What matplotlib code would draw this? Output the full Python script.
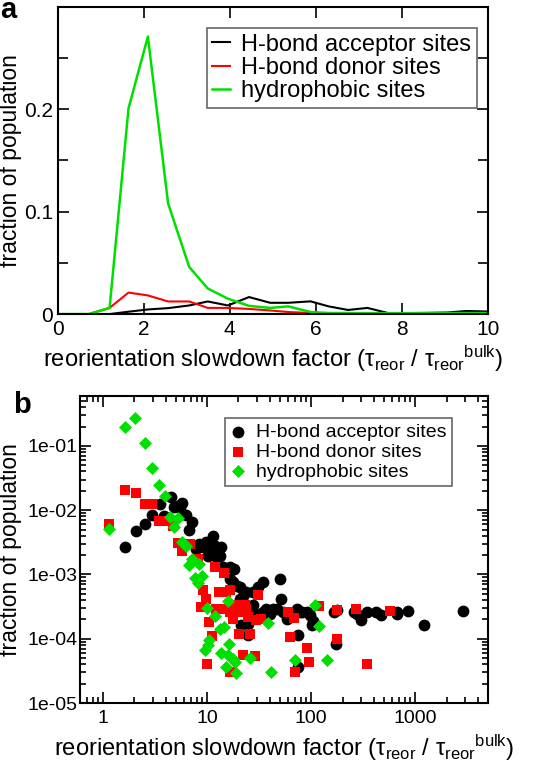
import matplotlib
matplotlib.use('Agg')
import matplotlib.pyplot as plt
from matplotlib.ticker import FixedLocator, LogLocator, NullFormatter, MultipleLocator

plt.rcParams['font.family'] = ['Liberation Sans', 'DejaVu Sans']
plt.rcParams['mathtext.fontset'] = 'custom'
plt.rcParams['mathtext.rm'] = 'Liberation Sans'
plt.rcParams['mathtext.default'] = 'regular'

# panel a: distributions (line plot)
slow_a = [0, 0.73, 1.21, 1.65, 2.1, 2.57, 3.06, 3.49, 3.96, 4.45, 4.94, 5.36, 5.88,
          6.3, 6.75, 7.2, 7.68, 8.15, 8.6, 9.05, 9.5, 10.0]
acceptor_a = [0, 0, 0, 0.0023, 0.0045, 0.0058, 0.0084, 0.0123, 0.0084, 0.0166, 0.011, 0.011,
              0.0124, 0.0075, 0.004, 0.006, 0.001, 0.001, 0.0012, 0.0015, 0.003, 0.0025]
donor_a = [0, 0, 0.006, 0.021, 0.0182, 0.0123, 0.0123, 0.006, 0.006, 0.005, 0.0035, 0.002,
           0.001, 0.0005, 0.0003, 0.0003, 0.0003, 0.0003, 0.0003, 0.0003, 0.0003, 0.0003]
hydrophobic_a = [0, 0, 0.006, 0.201, 0.271, 0.108, 0.046, 0.025, 0.015, 0.008, 0.006, 0.0075,
                 0.002, 0.001, 0.001, 0.0008, 0.0008, 0.0008, 0.0008, 0.001, 0.001, 0.001]

# panel b: scatter on log-log
acceptor_x = [1.61, 2.05, 2.53, 2.98, 3.51, 3.86, 4.48, 4.76, 5.2, 5.52, 5.73, 6.26, 6.74, 7.16,
              7.83, 8.43, 9.22, 9.78, 10.1, 10.4, 11.4, 11.8, 12.0, 12.7, 13.2, 13.7,
              14.2, 16.5, 18.1, 16.5, 17.7, 19.4, 20.5, 20.5,
              22.1, 23.8, 27.7, 30.9, 34.6, 23.0, 25.7, 27.7, 24.8, 21.3, 24.8,
              29.8, 34.6, 37.2, 40.1, 43.2, 46.5, 50.1, 51.3, 54.0, 58.2, 67.5, 72.7, 75.4, 75.4,
              78.3, 81.2, 90.8, 97.8, 101, 105,
              164, 175, 177, 257, 277, 298, 346, 416, 465, 674, 674, 843, 1222, 2872]
acceptor_y = [2.7e-3, 4.8e-3, 6.0e-3, 8.5e-3, 1.23e-2, 8.2e-3, 1.62e-2, 1.13e-2, 1.17e-2, 1.07e-2,
              1.29e-2, 8.4e-3, 5.0e-3, 6.5e-3,
              2.5e-3, 3.0e-3, 2.65e-3, 3.2e-3, 1.97e-3, 2.2e-3, 4.0e-3, 1.97e-3, 2.8e-3, 2.45e-3,
              1.97e-3, 2.65e-3,
              1.3e-3, 1.3e-3, 1.22e-3, 8.6e-4, 7.6e-4, 6.7e-4, 6.4e-4, 4.2e-4,
              4.7e-4, 5.3e-4, 5.3e-4, 6.4e-4, 7.6e-4, 2.9e-4, 2.9e-4, 3.3e-4, 1.72e-4, 1.66e-4, 1.13e-4,
              2.45e-4, 2.6e-4, 2.9e-4, 2.45e-4, 2.9e-4, 2.9e-4, 8.6e-4, 4.2e-4, 2.6e-4, 2.05e-4,
              2.3e-4, 2.9e-4, 1.16e-4, 3.66e-5, 2.6e-4, 2.6e-4, 2.6e-4, 2.3e-4, 1.66e-4, 1.87e-4,
              2.6e-4, 8.4e-5, 2.77e-4, 2.6e-4, 2.45e-4, 1.94e-4, 2.6e-4, 2.6e-4, 2.3e-4, 2.6e-4,
              2.4e-4, 2.7e-4, 1.66e-4, 2.7e-4]
donor_x = [1.13, 1.61, 2.05, 2.53, 2.98, 3.45, 3.92, 4.66, 5.2, 5.73, 6.3, 6.9, 8.25, 9.1, 8.75,
           9.78, 10.4, 11.1, 9.9,
           11.8, 13.0, 13.2, 14.5, 15.2, 16.5, 16.5, 12.3, 14.2, 17.7, 19.0, 20.5, 23.0, 17.7,
           16.5, 20.2, 22.1, 24.8, 25.7, 28.7, 30.9, 29.8, 33.3, 23.8,
           60.3, 69.0, 62.6, 70.1, 91.9, 96.2, 119, 177, 177, 267, 341, 572]
donor_y = [6.0e-3, 2.06e-2, 1.85e-2, 1.25e-2, 1.25e-2, 6.9e-3, 6.9e-3, 5.75e-3, 3.1e-3, 2.28e-3,
           3.0e-3, 3.0e-3, 1.75e-3, 5.65e-4, 3.1e-4, 4.2e-4, 1.82e-4, 1.09e-4, 4.0e-5,
           1.33e-3, 5.3e-4, 2.9e-4, 1.05e-3, 5.3e-4, 5.65e-4, 2.6e-4, 2.9e-4, 2.9e-4, 2.77e-4,
           3.3e-4, 2.6e-4, 3.3e-4, 2.05e-4, 3.06e-5, 1.2e-4, 5.5e-5, 2.2e-4, 1.2e-4, 5.3e-5,
           4.84e-4, 1.94e-4, 2.05e-4, 2.9e-4,
           2.6e-4, 2.1e-4, 1.07e-4, 3.06e-5, 7.2e-5, 4.3e-5, 3.24e-4, 2.8e-4, 1.0e-4, 2.9e-4,
           4.0e-5, 2.7e-4]
hydrophobic_x = [1.13, 1.61, 2.02, 2.53, 2.98, 3.45, 3.92, 4.38, 4.83, 5.28, 5.73, 6.26, 7.16,
                 6.74, 8.43, 8.87, 7.65, 8.1,
                 9.9, 11.8, 13.2, 14.5, 15.8, 16.2, 10.5, 10.1, 9.5, 13.5, 15.3, 15.8, 17.7,
                 18.4, 18.8, 26.0, 38.2, 41.5, 70.1, 109, 120, 141]
hydrophobic_y = [5.1e-3, 0.20, 0.27, 0.109, 4.6e-2, 2.45e-2, 1.64e-2, 7.7e-3, 5.4e-3, 7.5e-3,
                 3.2e-3, 2.8e-3, 1.75e-3, 1.38e-3, 1.46e-3, 9.6e-4, 8.9e-4, 7.4e-4,
                 3.0e-4, 2.26e-4, 1.44e-4, 1.5e-4, 3.8e-4, 8.4e-5, 9.5e-5, 7.9e-5, 6.6e-5,
                 5.9e-5, 3.66e-5, 5.5e-5, 4.9e-5, 4.4e-5, 2.9e-5, 5.0e-5, 1.78e-4, 3.0e-5,
                 4.6e-5, 3.4e-4, 1.6e-4, 4.6e-5]

labels = ['H-bond acceptor sites', 'H-bond donor sites', 'hydrophobic sites']
col_acc, col_don, col_hyd = 'black', '#ff0000', '#00e000'
xlabel = 'reorientation slowdown factor (τ$_{reor}$ / τ$_{reor}$$^{bulk}$)'

fig = plt.figure(figsize=(5.34, 7.66), dpi=100)

#%% panel a
ax1 = fig.add_axes([0.1077, 0.590, 0.806, 0.401])
ax1.plot(slow_a, acceptor_a, color=col_acc, lw=1.5, label=labels[0])
ax1.plot(slow_a, donor_a, color=col_don, lw=1.5, label=labels[1])
ax1.plot(slow_a, hydrophobic_a, color=col_hyd, lw=1.8, label=labels[2])
ax1.set_xlim(0, 10)
ax1.set_ylim(0, 0.3)
ax1.xaxis.set_major_locator(MultipleLocator(2))
ax1.yaxis.set_major_locator(FixedLocator([0, 0.1, 0.2]))
ax1.yaxis.set_minor_locator(MultipleLocator(0.05))
ax1.set_yticklabels(['0', '0.1', '0.2'])
ax1.tick_params(which='both', direction='in', top=True, right=True, width=1.2, labelsize=15)
ax1.tick_params(which='major', length=8)
ax1.tick_params(which='minor', length=7)
ax1.tick_params(axis='x', pad=4)
ax1.tick_params(axis='y', pad=3)
for s in ax1.spines.values():
    s.set_linewidth(1.5)
ax1.set_xlabel(xlabel, fontsize=17, labelpad=4)
ax1.set_ylabel('fraction of population', fontsize=16.5)
ax1.yaxis.set_label_coords(-0.0825, 0.5)
leg1 = ax1.legend(loc='upper right', bbox_to_anchor=(0.974, 0.932), borderaxespad=0,
                  fontsize=17, handlelength=0.75, handletextpad=0.45, labelspacing=0.05,
                  borderpad=0.25, fancybox=False, framealpha=1, edgecolor='0.4')
leg1.get_frame().set_linewidth(1.2)

#%% panel b
ax2 = fig.add_axes([0.1498, 0.0822, 0.764, 0.401])
ax2.scatter(acceptor_x, acceptor_y, s=72, marker='o', color=col_acc, lw=0, label=labels[0])
ax2.scatter(donor_x, donor_y, s=52, marker='s', color=col_don, lw=0, label=labels[1])
ax2.scatter(hydrophobic_x, hydrophobic_y, s=44, marker='D', color=col_hyd, lw=0, label=labels[2])
ax2.set_xscale('log')
ax2.set_yscale('log')
ax2.set_xlim(0.6, 5000)
ax2.set_ylim(1e-5, 0.6)
ax2.xaxis.set_major_locator(FixedLocator([1, 10, 100, 1000]))
ax2.set_xticklabels(['1', '10', '100', '1000'])
ax2.xaxis.set_minor_locator(LogLocator(base=10, subs=range(2, 10), numticks=20))
ax2.xaxis.set_minor_formatter(NullFormatter())
ax2.yaxis.set_major_locator(FixedLocator([1e-5, 1e-4, 1e-3, 1e-2, 1e-1]))
ax2.set_yticklabels(['1e-05', '1e-04', '1e-03', '1e-02', '1e-01'])
ax2.yaxis.set_minor_locator(LogLocator(base=10, subs=range(2, 10), numticks=20))
ax2.yaxis.set_minor_formatter(NullFormatter())
ax2.tick_params(which='both', direction='in', top=True, right=True, width=1.2, labelsize=14)
ax2.tick_params(which='major', length=8)
ax2.tick_params(which='minor', length=4)
ax2.tick_params(axis='x', pad=5)
ax2.tick_params(axis='y', pad=2)
for s in ax2.spines.values():
    s.set_linewidth(1.5)
ax2.set_xlabel(xlabel, fontsize=17, labelpad=4)
ax2.set_ylabel('fraction of population', fontsize=16.5)
ax2.yaxis.set_label_coords(-0.142, 0.5)
leg2 = ax2.legend(loc='upper right', bbox_to_anchor=(0.912, 0.928), borderaxespad=0,
                  fontsize=14, handlelength=0.8, handletextpad=0.5, labelspacing=0.1,
                  borderpad=0.3, fancybox=False, framealpha=1, edgecolor='0.4',
                  scatterpoints=1)
leg2.get_frame().set_linewidth(1.2)

# panel letters
fig.text(0.0, 0.977, 'a', fontsize=21, fontweight='bold')
fig.text(0.024, 0.461, 'b', fontsize=21, fontweight='bold')

plt.savefig('out.png', dpi=100)
